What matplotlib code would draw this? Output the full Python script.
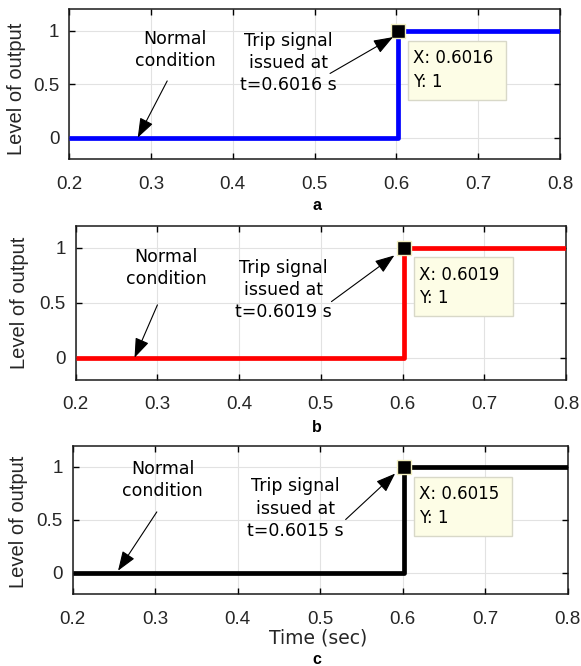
import matplotlib
matplotlib.use('Agg')
import matplotlib.pyplot as plt
from matplotlib.patches import Rectangle

plt.rcParams['font.family'] = ['DejaVu Sans']
ARIAL = ['Liberation Sans', 'DejaVu Sans']

# Data
t_start, t_end = 0.2, 0.8
trip_times = [0.6016, 0.6019, 0.6015]
trip_level = 1
line_colors = ['#0000ff', '#ff0000', '#000000']
panel_labels = ['a', 'b', 'c']
x_ticks = [0.2, 0.3, 0.4, 0.5, 0.6, 0.7, 0.8]
y_ticks = [0, 0.5, 1]

# layout of annotations (data coords) per panel
normal_text_xy = [(0.330, 0.818), (0.311, 0.815), (0.309, 0.874)]
normal_tail = [(0.320, 0.53), (0.300, 0.48), (0.302, 0.575)]
normal_head = [(0.284, 0.0), (0.272, 0.0), (0.255, 0.02)]
trip_text_xy = [(0.468, 0.70), (0.454, 0.616), (0.470, 0.607)]
trip_tail = [(0.519, 0.60), (0.513, 0.51), (0.531, 0.503)]
trip_head = [(0.596, 0.94), (0.590, 0.93), (0.591, 0.937)]
tip_box = [(0.614, 0.355, 0.734, 0.907), (0.614, 0.38, 0.735, 0.916), (0.614, 0.35, 0.733, 0.906)]

# axes rectangles in pixels: left, right, top, bottom
W, H = 581.0, 666.0
axes_px = [(69, 560, 9.3, 159), (75.7, 566, 225.7, 379.7), (72.7, 567.5, 445.7, 594)]
ylabel_right_px = [26, 29.4, 28.5]
ylabel_y = [0.47, 0.5, 0.49]
label_y = [205, 428, 660]

fig = plt.figure(figsize=(5.81, 6.66), dpi=100)

for i in range(3):
    l, r, t, b = axes_px[i]
    ax = fig.add_axes([l / W, 1 - b / H, (r - l) / W, (b - t) / H])
    t0 = trip_times[i]
    ax.plot([t_start, t0, t_end], [0, trip_level, trip_level], drawstyle='steps-post',
            color=line_colors[i], lw=3.4, solid_capstyle='butt', zorder=3)
    ax.plot([t0], [trip_level], marker='s', ms=10.5, mfc='black', mec='#f2efc0', mew=1.0,
            zorder=5)

    ax.set_xlim(t_start, t_end)
    ax.set_ylim(-0.2, 1.2)
    ax.set_xticks(x_ticks)
    ax.set_xticklabels(['%.1f' % v for v in x_ticks], family=ARIAL)
    ax.set_yticks(y_ticks)
    ax.set_yticklabels(['0', '0.5', '1'], family=ARIAL)
    ax.grid(True, color='#e2e2e2', lw=0.8)
    ax.set_axisbelow(True)
    ax.tick_params(direction='in', top=True, right=True, length=4, width=1,
                   labelsize=13.5, labelcolor='#262626')
    ax.tick_params(axis='x', pad=12)
    ax.tick_params(axis='y', pad=7)
    for s in ax.spines.values():
        s.set_linewidth(1.1)
        s.set_color('#1a1a1a')

    ax.set_ylabel('Level of output', fontsize=14.5, color='#262626', family=ARIAL)
    ax.yaxis.set_label_coords((ylabel_right_px[i] - l) / (r - l), ylabel_y[i])

    # annotations
    ax.text(*normal_text_xy[i], 'Normal\ncondition', ha='center', va='center',
            fontsize=12.5, linespacing=1.3)
    ax.annotate('', xy=normal_head[i], xytext=normal_tail[i],
                arrowprops=dict(arrowstyle='-|>,head_length=0.6,head_width=0.22',
                                mutation_scale=20, lw=0.8, color='black',
                                shrinkA=0, shrinkB=0), zorder=6)
    ax.text(*trip_text_xy[i], 'Trip signal\nissued at\nt=%.4f s' % t0, ha='center',
            va='center', fontsize=12.5, linespacing=1.3)
    ax.annotate('', xy=trip_head[i], xytext=trip_tail[i],
                arrowprops=dict(arrowstyle='-|>,head_length=0.6,head_width=0.22',
                                mutation_scale=20, lw=0.8, color='black',
                                shrinkA=0, shrinkB=0), zorder=6)

    # data tip
    x0, y0, x1, y1 = tip_box[i]
    ax.add_patch(Rectangle((x0, y0), x1 - x0, y1 - y0, facecolor='#fdfde6',
                           edgecolor='#d8d8c8', lw=1, zorder=4))
    ax.text(x0 + 0.0065, (y0 + y1) / 2, 'X: %.4f\nY: %d' % (t0, trip_level),
            ha='left', va='center', fontsize=12, linespacing=1.4, zorder=5)

    fig.text(0.545, 1 - label_y[i] / H, panel_labels[i], ha='center', va='center',
             fontsize=11.5, fontweight='bold', family=ARIAL)

fig.text(0.547, 1 - 638 / H, 'Time (sec)', ha='center', va='center', fontsize=13.5,
         color='#262626')

fig.savefig('out.png', dpi=100)
